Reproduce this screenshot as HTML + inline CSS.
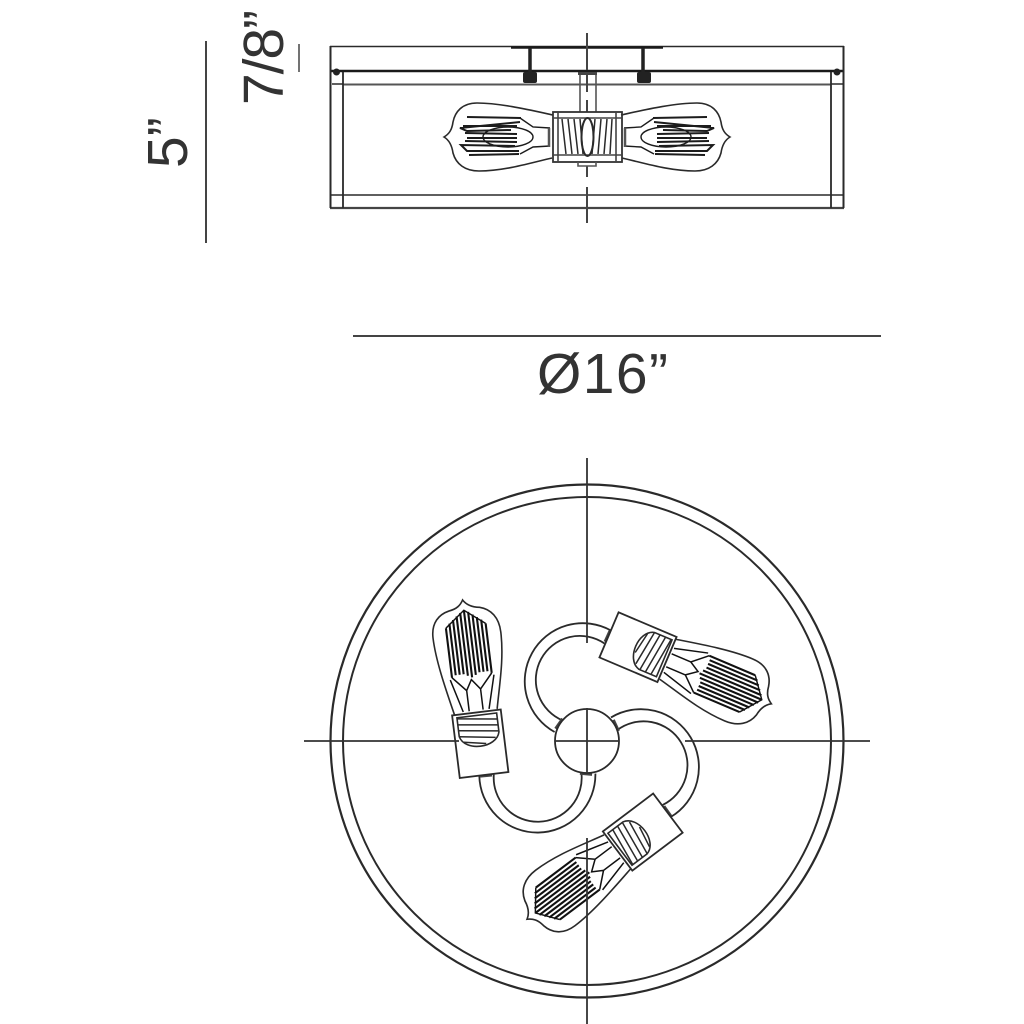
<!DOCTYPE html>
<html>
<head>
<meta charset="utf-8">
<style>
html,body{margin:0;padding:0;background:#fff}
svg{display:block}
text{font-family:"Liberation Sans",sans-serif;fill:#333;font-size:57px}
</style>
</head>
<body>
<svg width="1024" height="1024" viewBox="0 0 1024 1024" xmlns="http://www.w3.org/2000/svg">
<defs>
  <path id="glass" fill="none" stroke="#2a2a2a" stroke-width="1.6" d="M0,-22 C23,-27 53,-34 76,-34 C91,-34 98,-25 100,-15 C101,-7 104,-3 109,0 C104,3 101,9 100,16 C97,27 88,34 74,34 C48,34 23,26 1,21"/>
  <g id="bulbTop" fill="none" stroke="#1c1c1c">
    <use href="#glass"/>
    <path stroke-width="1.4" d="M3,-9 L20,-10 L33,-19 M3,9 L20,10 L33,17"/>
    <ellipse cx="45" cy="0" rx="25" ry="10" stroke-width="1.4"/>
    <path stroke-width="2" d="M32,-19 L86,-20 M33,-15 L93,-9 L86,-6 L42,-7 M36,-11 L90,-11 M36,-3 L88,-4 M36,1 L86,1 M36,5 L88,4 M38,9 L92,8 L86,14 L34,14 M34,17 L84,18"/>
  </g>
  <g id="bulbPlan" fill="none" stroke="#111">
    <use href="#glass"/>
    <path stroke-width="1.5" d="M2,-7 L22,-7 L36,-20 M2,7 L22,7 L36,20 M22,-7 L32,-1 L22,7 M2,-13 L34,-22 M2,13 L34,22"/>
    <path stroke-width="2.1" d="M36,-20 H84 M38,-16 H88 M38,-12 H91 M38,-8 H94 M36,-4 H97 M34,0 H99 M36,4 H97 M38,8 H94 M38,12 H91 M38,16 H88 M36,20 H84"/>
    <path stroke-width="1.4" d="M84,-20 L99,0 L84,20"/>
  </g>
  <g id="unit" fill="none" stroke="#2a2a2a">
    <path stroke-width="1.8" d="M554.6,732 A58,58 0 1 1 611,630.5"/>
    <path stroke-width="1.8" d="M562.8,720.5 A44,44 0 1 1 604.5,643.5"/>
    <path stroke-width="4" stroke="#444" d="M556,729 L563,719 M605.5,642 L610.5,631"/>
    <g transform="translate(667,659.5) rotate(23)">
      <rect x="-63" y="-24.5" width="63" height="49" fill="#fff" stroke-width="1.8"/>
      <path stroke-width="1.6" d="M-3,-20 L-22,-20 C-30,-18 -34,-9 -34,0 C-34,9 -30,18 -22,20 L-3,20 Z"/>
      <path stroke-width="1.5" d="M-28,-16 L-32,6 M-22,-20 L-27,16 M-16,-20 L-21,20 M-10,-20 L-15,20 M-4,-20 L-9,20"/>
      <use href="#bulbPlan" transform="scale(1.04,1)"/>
    </g>
  </g>
</defs>

<!-- dimension lines -->
<g stroke="#444" stroke-width="2" fill="none">
  <path d="M206,41 V243"/>
  <path d="M299,44 V72" stroke-width="1.5"/>
  <path d="M353,336 H881"/>
</g>
<text transform="translate(187,168) rotate(-90)">5”</text>
<text transform="translate(283,105) rotate(-90)" textLength="95" lengthAdjust="spacing">7/8”</text>
<text x="537" y="393" textLength="131" lengthAdjust="spacing">Ø16”</text>

<!-- elevation -->
<g fill="none" stroke="#2a2a2a">
  <path stroke-width="1.6" d="M330,46.5 H844"/>
  <path stroke-width="2.6" stroke="#1a1a1a" d="M511,47.5 H663"/>
  <path stroke-width="2.6" stroke="#1a1a1a" d="M331,71 H843"/>
  <path stroke-width="2" stroke="#555" d="M343,84.5 H831"/>
  <path stroke-width="1.6" d="M330,195 H844"/>
  <path stroke-width="2.2" stroke="#444" d="M330,208 H844"/>
  <path stroke-width="2" d="M330.5,46 V208 M843.5,46 V208"/>
  <path stroke-width="1.8" d="M343,72 V208 M831,72 V208"/>
  <path stroke-width="1.4" d="M332,84 H343 M831,84 H843"/>
  <path stroke-width="3.5" stroke="#222" d="M530,48 V72 M643,48 V72"/>
  <path stroke-width="1.6" stroke="#555" d="M580,73 V112 M596,73 V112"/>
  <path stroke-width="3" stroke="#444" d="M578,73.5 H597"/>
  <path stroke-width="2" stroke="#444" d="M587,33 V70 M587,74 V92 M587,100 V112 M587,166 V177 M587,187 V223"/>
</g>
<rect x="523" y="72" width="14" height="11" rx="2" fill="#222"/>
<rect x="637" y="72" width="14" height="11" rx="2" fill="#222"/>
<circle cx="336.500" cy="72" r="3.500" fill="#222"/>
<circle cx="837" cy="72" r="3.500" fill="#222"/>

<!-- elevation bulbs and socket -->
<use href="#bulbTop" transform="translate(553,137) scale(-1,1)"/>
<use href="#bulbTop" transform="translate(621,137)"/>
<g fill="none" stroke="#2a2a2a">
  <rect x="553" y="112" width="69" height="50" stroke-width="1.8" stroke="#333"/>
  <path stroke-width="1.6" stroke="#444" d="M553,118 H622 M553,155 H622 M558,112 V162 M616,112 V162"/>
  <path stroke-width="1.5" d="M562,119 L566,154 M568,119 L572,154 M574,119 L578,154 M580,119 L583,154 M592,154 L595,119 M598,154 L601,119 M604,154 L607,119 M610,154 L612,119"/>
  <ellipse cx="587.500" cy="137" rx="6" ry="19" stroke-width="2"/>
  <path stroke-width="1.6" stroke="#555" d="M578,162 V166 H596 V162"/>
  <path stroke-width="2.500" stroke="#555" d="M549,128 V147 M625,128 V147"/>
</g>

<!-- plan view -->
<g fill="none" stroke="#2a2a2a">
  <circle cx="587" cy="741" r="256.500" stroke-width="2.200"/>
  <circle cx="587" cy="741" r="244" stroke-width="2"/>
  <use href="#unit"/>
  <use href="#unit" transform="rotate(120 587 741)"/>
  <use href="#unit" transform="rotate(240 587 741)"/>
  <circle cx="587" cy="741" r="32" stroke-width="1.800" fill="#fff"/>
  <path stroke="#333" stroke-width="1.800" d="M587,458 V643 M587,708 V773 M587,838 V1024 M304,741 H459 M555,741 H619 M685,741 H870"/>
</g>
</svg>
</body>
</html>
